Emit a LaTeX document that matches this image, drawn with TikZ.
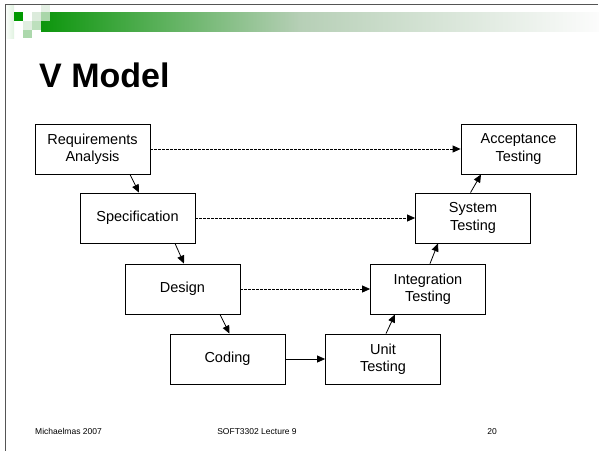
\documentclass[tikz,border=0pt]{standalone}
\usepackage{fontspec}
\setmainfont{Liberation Sans}
\usetikzlibrary{arrows.meta}
\definecolor{pxdark}{HTML}{009900}
\definecolor{bandA}{HTML}{0C960C}
\definecolor{bandB}{HTML}{B6CFB6}
\definecolor{bandC}{HTML}{FCFCFC}
\definecolor{framegray}{HTML}{555555}
\definecolor{pxa}{HTML}{DCEBDC}
\definecolor{pxb}{HTML}{A9D6A9}
\definecolor{pxc}{HTML}{E4F0E4}
\definecolor{pxd}{HTML}{E0EEE0}
\definecolor{pxe}{HTML}{BDE0BD}
\definecolor{pxf}{HTML}{ACD8AC}
\tikzset{
  stage/.style={draw=black, line width=0.8pt, fill=white, minimum width=115pt,
    minimum height=50pt, inner sep=0pt, align=center,
    font=\fontsize{14.5}{17.5}\selectfont},
  flow/.style={draw=black, line width=0.8pt, -{Triangle[length=8pt,width=7pt]}},
  link/.style={flow, dash pattern=on 2.5pt off 1.5pt},
  foot/.style={inner sep=0pt, font=\fontsize{8.5}{10}\selectfont}
}
\begin{document}
\begin{tikzpicture}[x=1pt, y=-1pt]
\useasboundingbox (0,0) rectangle (599,451);
\fill[white] (0,0) rectangle (599,451);

% header band and pixel squares
\shade[left color=white, right color=pxdark!12] (4,4) rectangle (14,38);
\shade[left color=bandA, right color=bandB] (41,12) rectangle (300,31);
\shade[left color=bandB, right color=bandC] (299.5,12) rectangle (599,31);
\fill[pxdark] (14,12) rectangle (23,21);
\fill[pxa] (32,12) rectangle (41,21);
\fill[pxb] (41,12) rectangle (49.5,21);
\fill[pxc] (41,4) rectangle (49.5,12);
\fill[pxd] (23,21) rectangle (32,29.5);
\fill[pxe] (32,21) rectangle (41,29.5);
\fill[pxf] (23,29.5) rectangle (32,38);

% slide frame
\draw[framegray, line width=1.3pt] (598,4.5) -- (5.7,4.5) -- (5.7,451);

% title
\node[anchor=base west, inner sep=0pt, font=\fontsize{34}{40}\bfseries\selectfont] (title) at (39,87) {V Model};

% development stages
\node[stage] (req)    at (92.5,149) {Requirements\\Analysis};
\node[stage] (spec)   at (137.5,218) {Specification};
\node[stage] (design) at (182.5,289) {Design};
\node[stage] (coding) at (227.5,359) {Coding};
% testing stages
\node[stage] (unit)   at (383,359) {Unit\\Testing};
\node[stage] (integ)  at (428,289) {Integration\\Testing};
\node[stage] (system) at (473,218) {System\\Testing};
\node[stage] (accept) at (518.5,149) {Acceptance\\Testing};

% down the left arm
\draw[flow] ([xshift=37.5pt]req.south) -- ([xshift=1.5pt]spec.north);
\draw[flow] ([xshift=37.5pt]spec.south) -- ([xshift=1.5pt]design.north);
\draw[flow] ([xshift=37.5pt]design.south) -- ([xshift=2pt]coding.north);
% across the bottom
\draw[flow] (coding.east) -- (unit.west);
% up the right arm
\draw[flow] ([xshift=3pt]unit.north) -- ([xshift=-33pt]integ.south);
\draw[flow] ([xshift=2pt]integ.north) -- ([xshift=-35pt]system.south);
\draw[flow] ([xshift=-2.5pt]system.north) -- ([xshift=-37.5pt]accept.south);

% verification links
\draw[link] (req.east) -- (accept.west);
\draw[link] (spec.east) -- (system.west);
\draw[link] (design.east) -- (integ.west);

% footer
\node[foot, anchor=base west] (f1) at (35,434) {Michaelmas 2007};
\node[foot, anchor=base] (f2) at (257,434) {SOFT3302 Lecture 9};
\node[foot, anchor=base east] (f3) at (497,434) {20};
\end{tikzpicture}
\end{document}
